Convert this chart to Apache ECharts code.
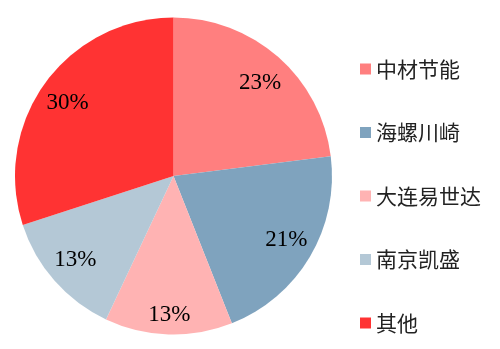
<!DOCTYPE html>
<html><head><meta charset="utf-8">
<script src="https://cdn.jsdelivr.net/npm/echarts@6/dist/echarts.min.js"></script>
<style>html,body{margin:0;padding:0;background:#fff}#c{width:500px;height:349px}</style>
</head><body><div id="c"></div>
<script>
var categories = ['中材节能', '海螺川崎', '大连易世达', '南京凯盛', '其他'];
var values = [23, 21, 13, 13, 30];
var colors = ['#FF7F7F', '#7FA3BE', '#FFB3B3', '#B4C8D6', '#FF3333'];
var labelOffsets = [[0,5],[0,-3],[0,8],[0,-3],[0,4]];

var chart = echarts.init(document.getElementById('c'), null, {renderer:'canvas'});
var mainData = categories.map(function(n,i){return {name:n, value:values[i], itemStyle:{color:colors[i]}};});
var labelData = categories.map(function(n,i){return {name:n, value:values[i], label:{offset:labelOffsets[i]}};});
chart.setOption({
  animation:false,
  backgroundColor:'#fff',
  legend:{
    orient:'vertical', left:355, top:53,
    itemWidth:11, itemHeight:11, itemGap:41.5,
    icon:'rect',
    data:categories,
    textStyle:{fontFamily:'Noto Sans CJK SC', fontSize:21, lineHeight:22, color:'#222'}
  },
  series:[
    {type:'pie', center:[173.5,176], radius:[0,158.5], startAngle:90, clockwise:true,
     silent:true, label:{show:false}, labelLine:{show:false},
     itemStyle:{borderWidth:0}, data:mainData},
    {type:'pie', center:[173.5,176], radius:[0,256], startAngle:90, clockwise:true,
     silent:true, legendHoverLink:false,
     itemStyle:{color:'rgba(0,0,0,0)', borderWidth:0},
     label:{show:true, position:'inside', formatter:function(p){return p.value+'%';},
            fontFamily:'Liberation Serif', fontSize:23, color:'#000'},
     labelLine:{show:false}, data:labelData}
  ]
});
</script></body></html>
